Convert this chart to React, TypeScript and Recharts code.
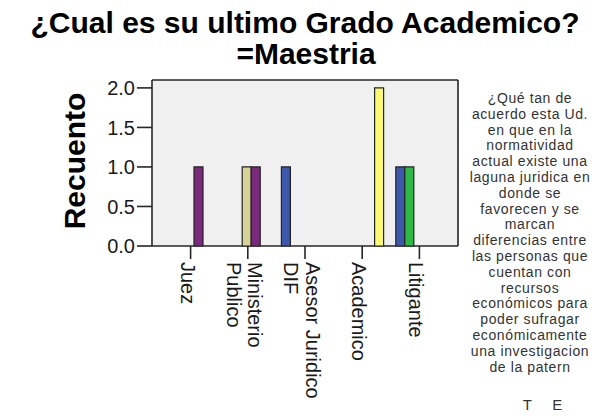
import React from 'react';
import { BarChart, Bar, XAxis, YAxis, CartesianGrid, Legend } from 'recharts';

const FONT = '"Liberation Sans", Arial, Helvetica, sans-serif';

// ---- data ----
const categories = ['Juez', 'Ministerio Publico', 'Asesor Juridico DIF', 'Academico', 'Litigante'];
const categoryLabelLines = [['Juez'], ['Ministerio', 'Publico'], ['Asesor Juridico', 'DIF'], ['Academico'], ['Litigante']];

const seriesNames = [
  'Totalmente de acuerdo',
  'De acuerdo',
  'Ni de acuerdo ni en desacuerdo',
  'En desacuerdo',
  'Totalmente en desacuerdo',
];
const seriesColors = ['#3D57AA', '#2EB848', '#D6D197', '#7B297D', '#FBF873'];

const totalmenteDeAcuerdo = [null, null, 1, null, 1];
const deAcuerdo = [null, null, null, null, 1];
const niDeAcuerdoNiEnDesacuerdo = [null, 1, null, null, null];
const enDesacuerdo = [1, 1, null, null, null];
const totalmenteEnDesacuerdo = [null, null, null, 2, null];

const seriesValues = [totalmenteDeAcuerdo, deAcuerdo, niDeAcuerdoNiEnDesacuerdo, enDesacuerdo, totalmenteEnDesacuerdo];

const yTicks = [0, 0.5, 1, 1.5, 2];

const titleLines = ['¿Cual es su ultimo Grado Academico?', '=Maestria'];
const yAxisTitle = 'Recuento';
const legendTitleLines = [
  '¿Qué tan de',
  'acuerdo esta Ud.',
  'en que en la',
  'normatividad',
  'actual existe una',
  'laguna juridica en',
  'donde se',
  'favorecen y se',
  'marcan',
  'diferencias entre',
  'las personas que',
  'cuentan con',
  'recursos',
  'económicos para',
  'poder sufragar',
  'económicamente',
  'una investigacion',
  'de la patern',
];
const legendHeaders = ['T', 'E'];

const data = categories.map((c, i) => {
  const row: any = { category: c };
  seriesValues.forEach((vals, k) => {
    row['s' + k] = vals[i];
  });
  return row;
});

// ---- pieces ----
function XTick(props: any) {
  const { x, y, payload } = props;
  const idx = categories.indexOf(payload.value);
  const lines = categoryLabelLines[idx] || [String(payload.value)];
  const n = lines.length;
  const b0 = 10 - (n - 1) * 10.6;
  return (
    <g transform={`translate(${x},${y})`}>
      <text transform="rotate(90)" fontSize={20} fontFamily={FONT} fill="#1a1a1a" textAnchor="start">
        {lines.map((l: string, i: number) => (
          <tspan key={i} x={0} y={b0 + i * 21.6}>
            {l}
          </tspan>
        ))}
      </text>
    </g>
  );
}

function YTitle(props: any) {
  const vb = props.viewBox || { x: 92, y: 80, width: 60, height: 166 };
  const cx = vb.x + vb.width - 67;
  const cy = vb.y + vb.height / 2 - 2;
  return (
    <text
      x={cx}
      y={cy}
      transform={`rotate(-90 ${cx} ${cy})`}
      textAnchor="middle"
      fontSize={30}
      fontWeight="bold"
      fontFamily={FONT}
      fill="#000"
    >
      {yAxisTitle}
    </text>
  );
}

function LegendContent() {
  return (
    <div
      style={{
        position: 'relative',
        width: 140,
        fontFamily: FONT,
        fontSize: 14,
        lineHeight: '15.8px',
        letterSpacing: 0.6,
        color: '#333',
        textAlign: 'center',
      }}
    >
      {legendTitleLines.map((l, i) => (
        <div key={i} style={{ whiteSpace: 'nowrap' }}>
          {l}
        </div>
      ))}
      <div style={{ position: 'relative', height: 16, marginTop: 22 }}>
        <span style={{ position: 'absolute', left: 62.7, top: 0, fontSize: 15 }}>{legendHeaders[0]}</span>
        <span style={{ position: 'absolute', left: 92.3, top: 0, fontSize: 15 }}>{legendHeaders[1]}</span>
      </div>
    </div>
  );
}

const gridH = (p: any) => {
  const o = p && p.offset ? p.offset : { top: 80, height: 165.7 };
  return [o.top, o.top + o.height];
};
const gridV = (p: any) => {
  const o = p && p.offset ? p.offset : { left: 152, width: 306 };
  return [o.left, o.left + o.width];
};

export default function App() {
  return (
    <div style={{ position: 'absolute', left: 0, top: 0, width: 605, height: 417, background: '#fff', overflow: 'hidden' }}>
      <svg width={605} height={75} style={{ position: 'absolute', left: 0, top: 0 }}>
        <text x={305} y={33} textAnchor="middle" fontSize={30} fontWeight="bold" fontFamily={FONT} fill="#000">
          {titleLines[0]}
        </text>
        <text x={306} y={63.5} textAnchor="middle" fontSize={30} fontWeight="bold" fontFamily={FONT} fill="#000">
          {titleLines[1]}
        </text>
      </svg>
      <BarChart
        width={605}
        height={417}
        data={data}
        margin={{ top: 80, right: 147, left: 92, bottom: 11 }}
        barCategoryGap={5}
        barGap={0}
        style={{ position: 'absolute', left: 0, top: 0 }}
      >
        <CartesianGrid
          fill="#F0F0F0"
          stroke="#262626"
          strokeWidth={1.6}
          horizontalCoordinatesGenerator={gridH}
          verticalCoordinatesGenerator={gridV}
        />
        <XAxis
          dataKey="category"
          type="category"
          interval={0}
          height={160}
          padding={{ left: 10, right: 10 }}
          axisLine={false}
          tickSize={13}
          tickMargin={3}
          tickLine={{ stroke: '#262626', strokeWidth: 1.6 }}
          tick={<XTick />}
        />
        <YAxis
          type="number"
          domain={[0, 2.1]}
          ticks={yTicks}
          width={60}
          axisLine={false}
          tickSize={15}
          tickMargin={2}
          tickLine={{ stroke: '#262626', strokeWidth: 1.6 }}
          tickFormatter={(v: number) => v.toFixed(1)}
          tick={{ fontSize: 20, fill: '#1a1a1a', fontFamily: FONT }}
          label={{ value: yAxisTitle, content: (p: any) => <YTitle {...p} /> }}
        />
        <Legend
          layout="vertical"
          align="center"
          verticalAlign="middle"
          wrapperStyle={{ position: 'absolute', left: 460, top: 91, width: 140, height: 330 }}
          content={() => <LegendContent />}
        />
        {seriesNames.map((name, k) => (
          <Bar
            key={k}
            dataKey={'s' + k}
            name={name}
            fill={seriesColors[k]}
            stroke="#222"
            strokeWidth={1.2}
            isAnimationActive={false}
          />
        ))}
      </BarChart>
    </div>
  );
}
